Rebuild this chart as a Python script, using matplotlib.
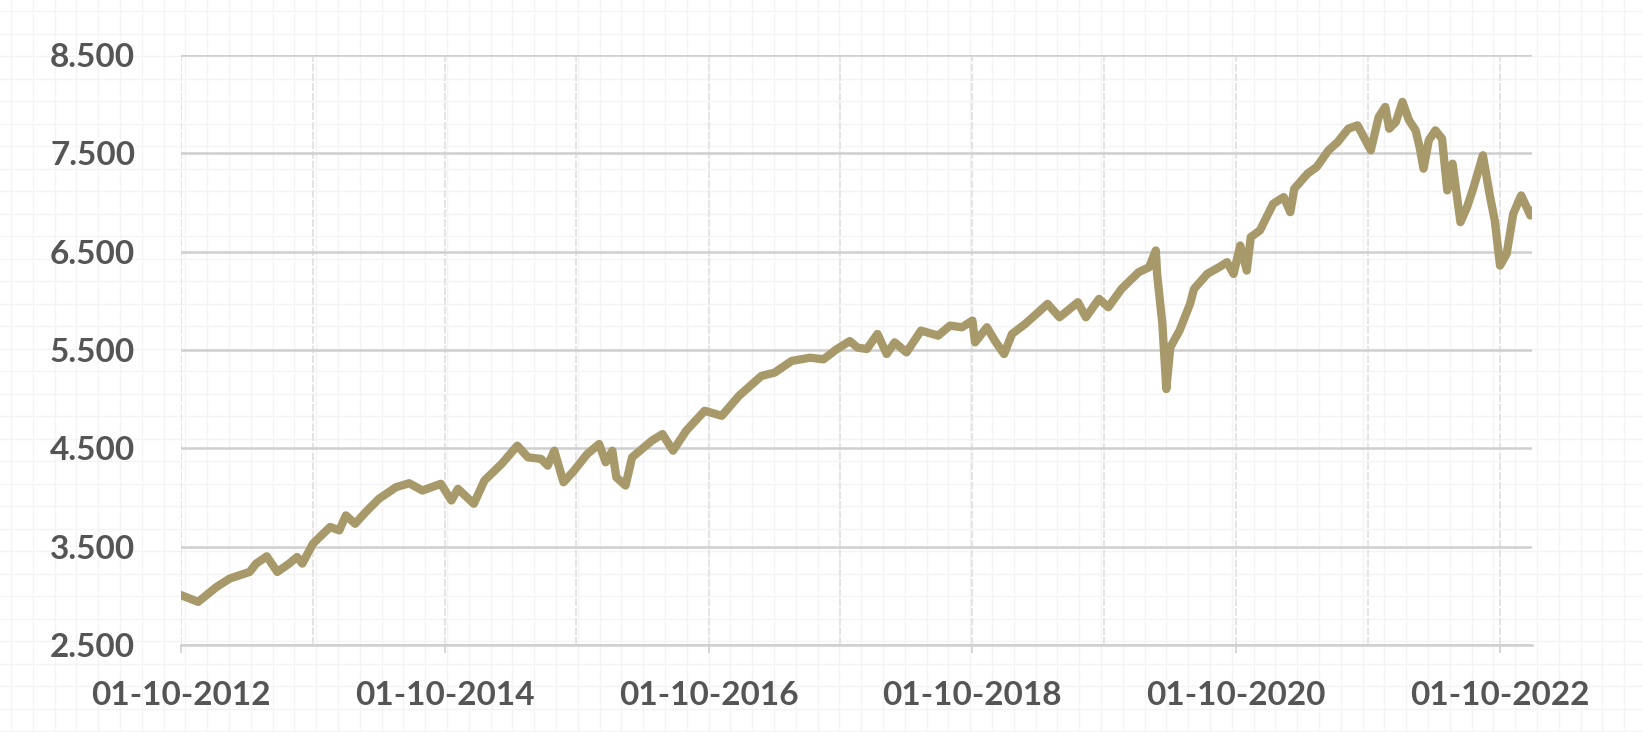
import numpy as np
import pandas as pd
import matplotlib
matplotlib.use("Agg")
import matplotlib.pyplot as plt
import matplotlib.dates as mdates
from matplotlib.ticker import FixedLocator, FuncFormatter

# index level, time as decimal years
years = [
    2012.75, 2012.88, 2013.02, 2013.12, 2013.27, 2013.32, 2013.40, 2013.48, 2013.57, 2013.63,
    2013.67, 2013.75, 2013.88, 2013.95, 2014.00, 2014.07, 2014.15, 2014.25, 2014.38, 2014.48,
    2014.58, 2014.72, 2014.80, 2014.85, 2014.97, 2015.05, 2015.18, 2015.30, 2015.38, 2015.48,
    2015.53, 2015.58, 2015.65, 2015.73, 2015.83, 2015.92, 2015.97, 2016.02, 2016.05, 2016.12,
    2016.17, 2016.32, 2016.40, 2016.48, 2016.58, 2016.72, 2016.85, 2016.98, 2017.15, 2017.25,
    2017.38, 2017.52, 2017.62, 2017.72, 2017.82, 2017.88, 2017.95, 2018.03, 2018.10, 2018.16,
    2018.25, 2018.36, 2018.49, 2018.58, 2018.67, 2018.75, 2018.77, 2018.86, 2018.92, 2018.99,
    2019.05, 2019.15, 2019.32, 2019.41, 2019.55, 2019.61, 2019.71, 2019.78, 2019.88, 2020.01,
    2020.09, 2020.14, 2020.15, 2020.19, 2020.22, 2020.25, 2020.32, 2020.40, 2020.43, 2020.53,
    2020.62, 2020.68, 2020.73, 2020.78, 2020.83, 2020.86, 2020.93, 2021.03, 2021.11, 2021.16,
    2021.19, 2021.29, 2021.36, 2021.45, 2021.52, 2021.60, 2021.67, 2021.77, 2021.83, 2021.88,
    2021.91, 2021.96, 2022.01, 2022.06, 2022.11, 2022.14, 2022.17, 2022.21, 2022.26, 2022.31,
    2022.35, 2022.39, 2022.45, 2022.50, 2022.55, 2022.62, 2022.67, 2022.71, 2022.75, 2022.80,
    2022.85, 2022.91, 2022.94, 2022.98, 2022.99,
]
values = [
    3007, 2939, 3091, 3176, 3243, 3328, 3402, 3243, 3328, 3395,
    3328, 3530, 3700, 3666, 3818, 3733, 3851, 3986, 4105, 4145,
    4071, 4139, 3970, 4088, 3936, 4172, 4341, 4527, 4409, 4392,
    4324, 4476, 4155, 4274, 4443, 4544, 4358, 4476, 4206, 4122,
    4409, 4578, 4645, 4476, 4679, 4882, 4831, 5034, 5236, 5270,
    5389, 5422, 5405, 5507, 5591, 5524, 5510, 5663, 5459, 5578,
    5476, 5697, 5646, 5748, 5731, 5799, 5578, 5731, 5595, 5459,
    5663, 5765, 5969, 5833, 5986, 5833, 6020, 5935, 6121, 6291,
    6342, 6512, 6274, 5765, 5103, 5527, 5697, 5969, 6121, 6274,
    6342, 6393, 6274, 6563, 6308, 6648, 6716, 6987, 7055, 6902,
    7140, 7293, 7361, 7531, 7616, 7751, 7785, 7531, 7870, 7972,
    7751, 7819, 8023, 7836, 7734, 7565, 7344, 7633, 7734, 7650,
    7123, 7395, 6800, 6953, 7157, 7480, 7089, 6817, 6359, 6478,
    6885, 7072, 6987, 6868, 6919,
]
y_ticks = [2500, 3500, 4500, 5500, 6500, 7500, 8500]

start = pd.Timestamp("2012-10-01")
dates = start + pd.to_timedelta((np.array(years) - 2012.75) * 365.25, unit="D")

line_color = "#A8996A"
text_color = "#555555"

fig = plt.figure(figsize=(16.43, 7.32), dpi=100)

# faint graph-paper background
bg = fig.add_axes([0, 0, 1, 1], zorder=0)
bg.set_xlim(0, 1643)
bg.set_ylim(732, 0)
bg.set_xticks(np.arange(11, 1643, 21.8))
bg.set_yticks(np.arange(11, 732, 22.5))
bg.grid(True, color="#f4f4f4", linewidth=1)
bg.tick_params(length=0, labelbottom=False, labelleft=False)
for s in bg.spines.values():
    s.set_visible(False)

ax = fig.add_axes([181 / 1643, 87 / 732, 1351 / 1643, 590 / 732], zorder=1)
ax.patch.set_alpha(0)

ax.plot(dates, values, color=line_color, linewidth=6, solid_joinstyle="round",
        solid_capstyle="round", zorder=3)

ax.set_xlim(start, pd.Timestamp("2022-12-29"))
ax.set_ylim(2500, 8500)

ax.yaxis.set_major_locator(FixedLocator(y_ticks))
ax.yaxis.set_major_formatter(FuncFormatter(lambda v, p: f"{int(v):,}".replace(",", ".")))

ax.xaxis.set_major_locator(mdates.YearLocator(2, month=10, day=1))
ax.xaxis.set_minor_locator(mdates.YearLocator(1, month=10, day=1))
ax.xaxis.set_major_formatter(mdates.DateFormatter("%d-%m-%Y"))

ax.grid(True, axis="y", color="#cfcfcf", linewidth=1.8, zorder=1)
ax.grid(True, axis="x", which="both", color="#e4e4e4", linewidth=1.4,
        linestyle=(0, (4, 1)), zorder=1)

for name in ["top", "right", "left"]:
    ax.spines[name].set_visible(False)
ax.spines["bottom"].set_color("#cfcfcf")
ax.spines["bottom"].set_linewidth(1.8)

ax.tick_params(axis="y", length=0, pad=33, labelsize=24, labelcolor=text_color)
ax.tick_params(axis="x", which="major", length=6, width=1.3, color="#d3d3d3",
               pad=20, labelsize=24, labelcolor=text_color)
ax.tick_params(axis="x", which="minor", length=0)
for lab in ax.get_xticklabels() + ax.get_yticklabels():
    lab.set_fontfamily("Lato")
    lab.set_fontweight("bold")

fig.savefig("out.png", dpi=100)
